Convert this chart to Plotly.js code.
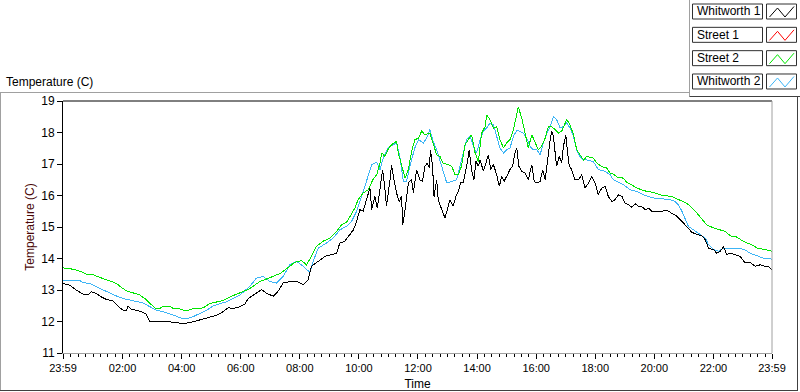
<!DOCTYPE html>
<html><head><meta charset="utf-8">
<script src="https://cdn.plot.ly/plotly-3.0.1.min.js"></script>
<style>html,body{margin:0;padding:0;background:#fff}#chart{width:800px;height:392px}
#chart .scatterlayer path{shape-rendering:crispEdges}</style>
</head><body><div id="chart"></div>
<script>
// Time axis: hours elapsed since 23:59 of previous day
const tickVals = [0, 2.0167, 4.0167, 6.0167, 8.0167, 10.0167, 12.0167, 14.0167, 16.0167, 18.0167, 20.0167, 22.0167, 24];
const tickText = ["23:59","02:00","04:00","06:00","08:00","10:00","12:00","14:00","16:00","18:00","20:00","22:00","23:59"];
const seriesNames = ["Whitworth 1","Street 1","Street 2","Whitworth 2"];
const seriesColors = ["#000000","#ff0000","#00e600","#3cb4f5"];

const w1_t = [0.00,0.23,0.45,0.68,0.85,0.96,1.13,1.30,1.47,1.69,1.86,2.03,2.15,2.20,2.32,2.49,2.65,2.82,2.94,3.16,3.39,3.61,3.84,4.07,4.29,4.52,4.74,4.97,5.20,5.42,5.59,5.76,5.99,6.16,6.27,6.38,6.55,6.72,6.89,7.12,7.28,7.45,7.68,7.91,8.13,8.30,8.41,8.64,8.87,9.09,9.26,9.37,9.54,9.71,9.83,9.94,10.05,10.16,10.28,10.39,10.45,10.56,10.64,10.73,10.82,10.90,10.95,11.07,11.12,11.20,11.29,11.38,11.46,11.50,11.58,11.69,11.80,11.86,11.97,12.08,12.17,12.25,12.33,12.40,12.44,12.51,12.56,12.65,12.70,12.78,12.87,12.93,13.01,13.10,13.21,13.30,13.38,13.46,13.55,13.64,13.69,13.75,13.83,13.91,13.98,14.06,14.12,14.23,14.32,14.40,14.48,14.57,14.68,14.77,14.85,14.93,15.02,15.13,15.22,15.30,15.36,15.43,15.53,15.64,15.75,15.87,15.95,16.04,16.15,16.24,16.32,16.40,16.49,16.54,16.60,16.66,16.71,16.80,16.88,16.94,17.02,17.07,17.14,17.22,17.33,17.45,17.56,17.67,17.79,17.90,18.01,18.12,18.24,18.35,18.46,18.58,18.69,18.80,18.92,19.03,19.14,19.25,19.37,19.48,19.59,19.71,19.82,19.93,20.10,20.27,20.44,20.61,20.78,20.95,21.12,21.29,21.46,21.63,21.74,21.85,22.02,22.13,22.25,22.36,22.47,22.59,22.75,22.92,23.09,23.26,23.43,23.60,23.77,23.88,24.00];
const w1_v = [13.21,13.15,13.00,12.87,12.84,12.94,12.89,12.78,12.70,12.65,12.49,12.36,12.36,12.49,12.38,12.36,12.31,12.23,11.99,11.99,12.01,11.99,11.96,11.94,11.96,12.02,12.07,12.13,12.20,12.31,12.44,12.41,12.47,12.55,12.73,12.80,12.90,13.01,12.90,12.80,12.96,13.22,13.27,13.27,13.17,13.33,13.75,13.91,14.07,14.12,14.17,14.49,14.55,14.76,14.91,15.18,15.55,15.50,15.92,16.24,15.55,15.97,15.60,16.29,16.82,16.18,15.66,16.50,16.98,16.50,16.08,15.81,15.97,15.07,15.55,16.40,16.50,16.08,16.82,16.50,16.45,16.93,17.03,16.87,17.45,16.93,15.97,16.50,15.87,15.66,15.44,15.28,15.55,15.87,15.66,15.97,16.13,16.40,16.40,16.77,17.08,17.45,16.82,16.50,17.08,16.93,17.13,16.77,17.08,17.29,16.82,16.98,16.66,16.29,16.61,16.45,16.61,16.82,16.93,17.35,17.51,16.93,16.77,16.71,16.50,16.98,16.45,16.40,16.45,16.82,16.50,17.19,17.77,18.04,17.88,17.35,16.93,17.24,17.03,17.56,17.93,17.45,16.93,16.82,16.50,16.50,16.66,16.24,16.40,16.61,16.40,16.03,16.24,16.29,15.97,15.81,15.87,16.02,15.97,15.76,15.71,15.63,15.74,15.65,15.65,15.55,15.60,15.50,15.50,15.50,15.53,15.44,15.34,15.18,15.02,14.83,14.76,14.72,14.60,14.33,14.28,14.17,14.23,14.38,14.12,14.17,14.12,14.07,13.86,13.88,13.75,13.80,13.75,13.75,13.64];

const s1_t = [];
const s1_v = [];

const s2_t = [0.00,0.23,0.45,0.62,0.79,1.02,1.13,1.36,1.58,1.81,1.92,2.15,2.37,2.60,2.77,2.94,3.11,3.28,3.39,3.61,3.73,3.95,4.12,4.24,4.40,4.74,4.97,5.20,5.42,5.65,5.87,6.10,6.27,6.44,6.66,6.89,7.12,7.34,7.45,7.68,7.85,8.08,8.24,8.41,8.58,8.81,9.03,9.26,9.43,9.60,9.71,9.88,9.99,10.16,10.33,10.50,10.62,10.73,10.79,10.90,11.01,11.12,11.24,11.29,11.35,11.46,11.58,11.69,11.80,11.91,12.03,12.14,12.25,12.42,12.53,12.65,12.76,12.87,13.04,13.16,13.27,13.38,13.49,13.61,13.72,13.83,13.95,14.06,14.17,14.29,14.34,14.45,14.57,14.68,14.79,14.91,15.02,15.13,15.25,15.36,15.41,15.53,15.64,15.75,15.87,15.98,16.09,16.20,16.32,16.43,16.54,16.66,16.77,16.88,17.05,17.16,17.28,17.39,17.50,17.62,17.73,17.95,18.07,18.24,18.41,18.52,18.63,18.75,18.97,19.08,19.25,19.42,19.59,19.76,19.99,20.21,20.44,20.67,20.83,21.00,21.17,21.29,21.46,21.63,21.79,22.02,22.25,22.42,22.59,22.81,23.04,23.21,23.38,23.49,23.71,23.88,24.00];
const s2_v = [13.70,13.68,13.63,13.58,13.50,13.49,13.44,13.37,13.29,13.21,13.12,12.97,12.91,12.84,12.73,12.57,12.43,12.41,12.49,12.49,12.41,12.40,12.34,12.36,12.41,12.43,12.57,12.62,12.67,12.78,12.86,12.96,13.02,13.12,13.27,13.35,13.43,13.52,13.59,13.75,13.88,13.93,13.80,14.07,14.39,14.55,14.65,14.86,15.07,15.15,15.34,15.60,15.87,16.08,16.18,16.52,16.66,17.03,17.35,17.24,17.48,17.61,17.69,17.72,17.35,16.93,16.55,16.82,17.40,17.77,17.82,18.04,17.93,17.98,17.67,17.29,17.24,17.03,16.98,16.93,16.66,16.66,16.93,17.61,17.77,17.93,17.35,17.08,17.98,18.19,18.56,18.41,18.14,18.19,17.77,17.51,17.67,17.77,18.09,18.56,18.81,18.46,17.98,17.51,17.93,17.67,17.45,17.56,17.82,18.19,18.19,18.09,17.98,18.04,18.41,18.25,17.93,17.45,17.29,17.13,17.24,17.19,17.03,16.92,16.87,16.71,16.68,16.59,16.55,16.42,16.34,16.24,16.18,16.13,16.10,16.02,15.99,15.95,15.87,15.81,15.71,15.60,15.44,15.25,15.07,14.97,14.91,14.86,14.72,14.68,14.54,14.47,14.41,14.33,14.30,14.26,14.23];

const w2_t = [0.00,0.23,0.56,0.68,0.90,1.13,1.36,1.58,1.81,2.03,2.26,2.49,2.71,2.94,3.16,3.39,3.61,3.84,4.01,4.24,4.40,4.63,4.86,5.08,5.31,5.53,5.76,5.99,6.33,6.55,6.78,7.00,7.23,7.45,7.68,7.91,8.13,8.36,8.47,8.64,8.92,9.15,9.37,9.60,9.77,9.94,10.11,10.28,10.45,10.62,10.73,10.84,11.01,11.18,11.29,11.41,11.52,11.63,11.74,11.91,12.03,12.20,12.31,12.42,12.53,12.65,12.76,12.87,12.99,13.16,13.32,13.44,13.55,13.66,13.78,13.89,14.00,14.12,14.23,14.34,14.45,14.57,14.68,14.79,14.91,15.02,15.13,15.25,15.36,15.47,15.58,15.70,15.81,15.92,16.04,16.15,16.26,16.38,16.49,16.60,16.71,16.83,16.94,17.05,17.17,17.28,17.39,17.50,17.62,17.73,17.95,18.12,18.35,18.52,18.63,18.80,18.97,19.20,19.42,19.65,19.88,20.10,20.33,20.55,20.72,20.83,20.95,21.06,21.17,21.34,21.57,21.74,21.85,22.02,22.19,22.36,22.59,22.81,23.04,23.26,23.49,23.71,24.00];
const w2_v = [13.31,13.31,13.31,13.23,13.21,13.10,13.00,12.89,12.81,12.73,12.68,12.62,12.59,12.47,12.36,12.31,12.25,12.17,12.10,12.10,12.15,12.25,12.36,12.49,12.57,12.62,12.73,12.84,13.12,13.38,13.43,13.27,13.22,13.43,13.80,13.91,13.75,13.56,13.91,14.33,14.49,14.65,14.91,15.02,15.18,15.50,15.97,16.45,16.98,17.06,16.82,17.19,17.51,17.61,17.67,17.19,16.45,16.45,16.93,17.51,17.77,17.67,17.82,18.09,17.72,17.45,17.13,16.77,16.40,16.45,16.50,16.93,17.35,17.77,17.88,17.56,17.35,17.77,18.04,18.14,18.30,18.25,17.88,17.51,17.35,17.45,17.51,17.88,18.07,18.04,17.98,17.82,17.56,17.45,17.45,17.29,17.67,17.98,18.19,18.51,18.41,18.14,18.19,18.30,18.14,17.88,17.45,17.24,17.13,17.13,17.08,16.82,16.77,16.66,16.50,16.42,16.34,16.18,16.13,16.02,15.95,15.89,15.89,15.87,15.81,15.71,15.50,15.23,15.02,14.91,14.76,14.65,14.44,14.28,14.23,14.33,14.31,14.31,14.30,14.17,14.09,14.01,13.98];

// plot-area pixel geometry and helpers for decorations
const W = 800, H = 392, L = 63, R = 772, T = 101, B = 353;
const px = x => (x - L) / (R - L);
const py = y => (B - y) / (B - T);
const FONT = "Liberation Sans, Arial, sans-serif";

const mk = (t, v, i) => ({x: t, y: v, type: 'scatter', mode: 'lines', name: seriesNames[i],
  line: {color: seriesColors[i], width: 1}, hoverinfo: 'skip', showlegend: false});
const data = [mk(w2_t, w2_v, 3), mk(s2_t, s2_v, 2), mk(s1_t, s1_v, 1), mk(w1_t, w1_v, 0)];

const shapes = [];
const annotations = [];
const line = (x0, y0, x1, y1, c) => shapes.push({type: 'line', xref: 'paper', yref: 'paper',
  x0: px(x0), y0: py(y0), x1: px(x1), y1: py(y1), line: {color: c, width: 1}});
// plot frame: top black, right gray
line(L, T, R, T, '#000000');
line(R, T, R, B, '#a0a0a0');
// outer panel frame
line(0, 92.5, 689.5, 92.5, '#a0a0a0');
line(0.5, 92.5, 0.5, 390.5, '#a0a0a0');
line(0, 390.5, 798, 390.5, '#404040');
line(797.5, 96.5, 797.5, 390.5, '#404040');
line(689.5, 0, 689.5, 96.5, '#a0a0a0');
line(689.5, 96.5, 800, 96.5, '#404040');

// legend
const rowH = 23.33;
seriesNames.forEach((n, i) => {
  const yt = 4 + i * rowH, yb = yt + 15;
  shapes.push({type: 'rect', xref: 'paper', yref: 'paper', x0: px(692.5), x1: px(762.5), y0: py(yb), y1: py(yt),
    line: {color: '#303030', width: 1}, fillcolor: '#ffffff'});
  shapes.push({type: 'rect', xref: 'paper', yref: 'paper', x0: px(766.5), x1: px(796.5), y0: py(yb), y1: py(yt),
    line: {color: '#303030', width: 1}, fillcolor: '#ffffff'});
  const p = [[769.5, yt + 13], [777.5, yt + 4], [785, yt + 13], [794, yt + 2.5]];
  shapes.push({type: 'path', xref: 'paper', yref: 'paper',
    path: p.map((q, k) => (k ? 'L' : 'M') + px(q[0]) + ',' + py(q[1])).join(' '),
    line: {color: seriesColors[i], width: 1}});
  annotations.push({xref: 'paper', yref: 'paper', x: px(695), y: py(yt + 7.5), xanchor: 'left', yanchor: 'middle',
    text: n, showarrow: false, font: {family: FONT, size: 12, color: '#000000'}});
});
annotations.push({xref: 'paper', yref: 'paper', x: px(3.5), y: py(82), xanchor: 'left', yanchor: 'middle',
  text: 'Temperature (C)', showarrow: false, font: {family: FONT, size: 12, color: '#000000'}});

const layout = {
  width: W, height: H,
  margin: {l: L, r: W - R, t: T, b: H - B, pad: 0},
  paper_bgcolor: '#ffffff', plot_bgcolor: '#ffffff',
  font: {family: FONT, size: 11, color: '#000000'},
  showlegend: false,
  xaxis: {range: [0, 24], tickmode: 'array', tickvals: tickVals, ticktext: tickText,
    ticks: 'outside', ticklen: 5, tickcolor: '#000000', tickwidth: 1,
    minor: {tick0: 0.0167, dtick: 0.25, ticks: 'outside', ticklen: 3, tickcolor: '#000000', showgrid: false},
    showgrid: false, zeroline: false, showline: true, linecolor: '#a0a0a0', linewidth: 1,
    tickfont: {family: FONT, size: 11, color: '#000000'},
    title: {text: 'Time', font: {family: FONT, size: 12, color: '#000000'}, standoff: 6},
    automargin: false, fixedrange: true},
  yaxis: {range: [11, 19], dtick: 1, tick0: 11, ticks: 'outside', ticklen: 5, tickcolor: '#000000',
    showgrid: false, zeroline: false, showline: true, linecolor: '#000000', linewidth: 1,
    tickfont: {family: FONT, size: 12, color: '#000000'},
    title: {text: 'Temperature (C)', font: {family: FONT, size: 12, color: '#4a0808'}, standoff: 4},
    automargin: false, fixedrange: true},
  shapes: shapes,
  annotations: annotations
};
Plotly.newPlot('chart', data, layout, {staticPlot: true, displayModeBar: false});
</script>
</body></html>
